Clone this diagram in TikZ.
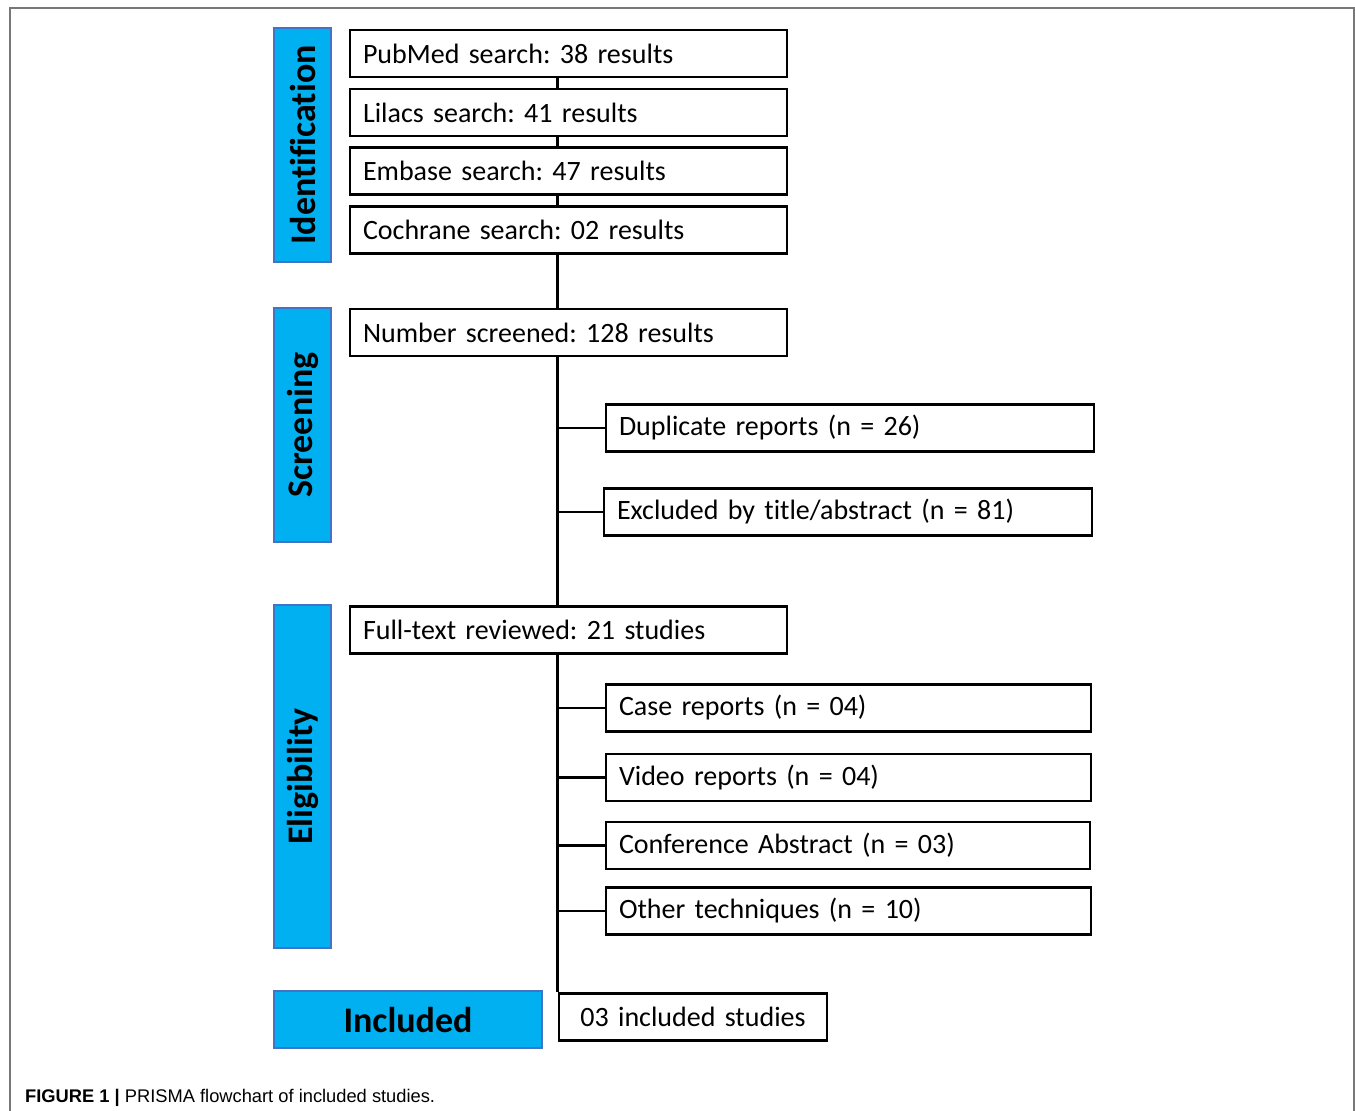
\documentclass[tikz,border=0pt]{standalone}
\usepackage{fontspec}
\setmainfont{Carlito}[Ligatures=NoCommon]
\newfontfamily\capfont{Liberation Sans}
\usetikzlibrary{positioning, backgrounds}
\definecolor{stagefill}{RGB}{0, 176, 240}
\definecolor{stageline}{RGB}{68, 114, 196}
\definecolor{framegray}{RGB}{120, 120, 120}
\frenchspacing

\begin{document}
\begin{tikzpicture}[x=1pt, y=-1pt,
    box/.style={draw, fill=white, line width=2.6pt, inner xsep=13pt, inner ysep=0pt,
        minimum height=47pt, align=left, font=\fontsize{28}{32}\selectfont},
    stage/.style={draw=stageline, fill=stagefill, line width=1.6pt, inner sep=0pt,
        font=\fontsize{36}{40}\selectfont\bfseries},
    link/.style={line width=2.6pt}]
    \useasboundingbox (0,0) rectangle (1355,1111);
    \draw[framegray, line width=1.5pt] (10,1111) -- (10,8) -- (1354,8) -- (1354,1111);

    % stage labels
    \node[stage, rotate=90, minimum width=234pt, minimum height=57pt] (ident) at (302.5,145) {Identification};
    \node[stage, rotate=90, minimum width=234pt, minimum height=57pt] (screen) at (302.5,425) {Screening};
    \node[stage, rotate=90, minimum width=343pt, minimum height=57pt] (elig) at (302.5,776.5) {Eligibility};
    \node[stage, minimum width=268pt, minimum height=57pt] (inclstage) at (408,1019.5) {Included};

    % searches
    \node[box, text width=411pt] (pubmed) at (568.5,53.5) {PubMed search: 38 results};
    \node[box, text width=411pt] (lilacs) at (568.5,112.5) {Lilacs search: 41 results};
    \node[box, text width=411pt] (embase) at (568.5,171) {Embase search: 47 results};
    \node[box, text width=411pt] (cochrane) at (568.5,230) {Cochrane search: 02 results};
    \node[box, text width=411pt] (screened) at (568.5,332.5) {Number screened: 128 results};
    \node[box, text width=462pt] (dup) at (850,428) {Duplicate reports (n = 26)};
    \node[box, text width=462pt] (excl) at (848,512) {Excluded by title/abstract (n = 81)};
    \node[box, text width=411pt] (fulltext) at (568.5,630) {Full-text reviewed: 21 studies};
    \node[box, text width=459pt] (case) at (848.5,708) {Case reports (n = 04)};
    \node[box, text width=459pt] (video) at (848.5,777.5) {Video reports (n = 04)};
    \node[box, text width=458pt] (conf) at (848,845.5) {Conference Abstract (n = 03)};
    \node[box, text width=459pt] (other) at (848.5,911) {Other techniques (n = 10)};
    \node[box, text width=242pt, align=center] (incl) at (693,1017) {03 included studies};

    \begin{scope}[on background layer]
        \draw[link] (pubmed.south -| incl.north west) -- (incl.north west);
        \foreach \n in {dup, excl, case, video, conf, other}
            \draw[link] (\n.west -| incl.north west) -- (\n.west);
    \end{scope}

    \node[anchor=west, inner sep=0pt, font=\capfont\fontsize{18.3}{21}\selectfont] (caption) at (25,1098)
        {\textbf{FIGURE 1 |} PRISMA flowchart of included studies.};
\end{tikzpicture}
\end{document}
